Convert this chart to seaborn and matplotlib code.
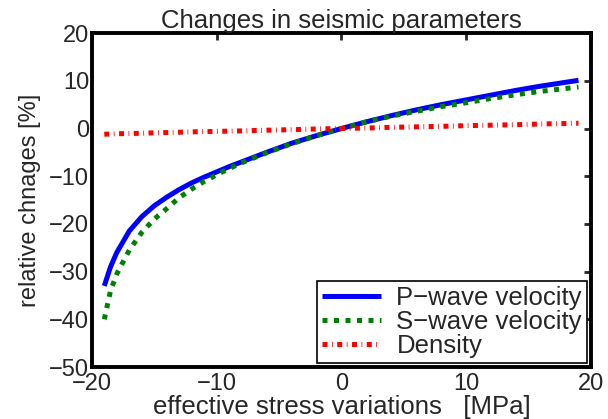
import pandas as pd
import seaborn as sns
import matplotlib.pyplot as plt
import numpy as np

# values
stress = [-19, -18.5, -18, -17, -16, -15, -14, -13, -12, -11, -10, -9, -8, -6,
          -4, -2, 0, 2, 4, 6, 8, 10, 12, 14, 16, 18, 19]
p_wave = [-33.0, -29.0, -26.0, -21.5, -18.5, -16.2, -14.4, -12.8, -11.4, -10.2,
          -9.1, -8.0, -7.0, -5.0, -3.1, -1.5, 0.0, 1.4, 2.7, 3.9, 5.0, 6.0,
          7.0, 8.0, 8.9, 9.7, 10.1]
s_wave = [-40.0, -34.0, -30.5, -25.5, -21.8, -19.0, -16.8, -14.5, -12.7, -11.1,
          -9.7, -8.4, -7.2, -5.1, -3.2, -1.5, 0.0, 1.4, 2.6, 3.6, 4.6, 5.4,
          6.3, 7.1, 7.8, 8.4, 8.7]
density = [-1.2, -1.15, -1.1, -1.05, -1.0, -0.9, -0.85, -0.78, -0.7, -0.65,
           -0.6, -0.55, -0.5, -0.35, -0.25, -0.1, 0.0, 0.1, 0.25, 0.35, 0.45,
           0.6, 0.7, 0.8, 0.95, 1.05, 1.1]
labels = ["P\u2212wave velocity", "S\u2212wave velocity", "Density"]

df = pd.DataFrame({"stress": stress, "P": p_wave, "S": s_wave, "rho": density})

sns.set_style("white")
plt.rcParams["font.family"] = ["Liberation Sans", "DejaVu Sans"]
plt.rcParams["axes.unicode_minus"] = True

fig = plt.figure(figsize=(6.08, 4.19), dpi=100)
ax = fig.add_axes([0.151, 0.124, 0.821, 0.797])

sns.lineplot(data=df, x="stress", y="P", ax=ax, color="#0000ff", lw=3.6,
             label=labels[0])
sns.lineplot(data=df, x="stress", y="S", ax=ax, color="#008000", lw=3.6,
             linestyle=(0, (1, 1.3)), label=labels[1])
sns.lineplot(data=df, x="stress", y="rho", ax=ax, color="#ff0000", lw=3.6,
             linestyle=(0, (1, 0.9, 0.15, 0.9)), label=labels[2])
for ln in ax.get_lines():
    ln.set_dash_capstyle("butt")
    ln.set_solid_capstyle("butt")

ax.set_xlim(-20, 20)
ax.set_ylim(-50, 20)
ax.set_xticks([-20, -10, 0, 10, 20])
ax.set_yticks(range(-50, 21, 10))
ax.tick_params(direction="in", length=5, width=2, labelsize=17,
               top=True, right=True, pad=2)
ax.tick_params(axis="x", pad=4)
for sp in ax.spines.values():
    sp.set_visible(True)
    sp.set_linewidth(2.8)
    sp.set_color("black")

ax.set_title("Changes in seismic parameters", fontsize=18.5, pad=4)
ax.set_xlabel("effective stress variations   [MPa]", fontsize=18.5, labelpad=0)
ax.set_ylabel("relative chnages [%]", fontsize=17, labelpad=6)

leg = ax.legend(loc="lower right", fontsize=18.5, frameon=True, fancybox=False,
                framealpha=1, edgecolor="black", borderaxespad=0.15,
                handlelength=2.3, handletextpad=0.6, labelspacing=0.0,
                borderpad=0.2)
leg.get_frame().set_linewidth(1.2)

fig.savefig("out.png", dpi=100)
